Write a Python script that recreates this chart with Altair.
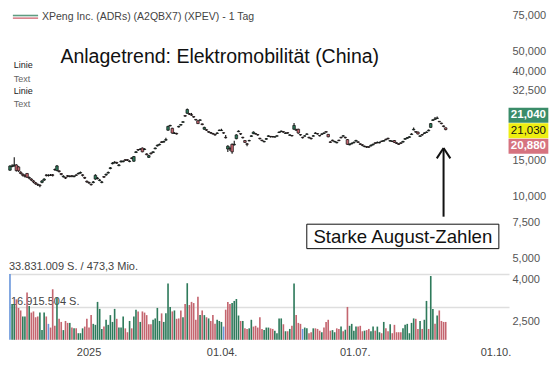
import altair as alt
import pandas as pd

# ---------------- data ----------------
opens = [
    13.40, 13.95, 14.05, 14.20, 13.90, 13.10, 12.80, 12.60, 12.92, 12.35,
    12.15, 11.90, 11.65, 11.45, 11.35, 11.70, 12.00, 12.70, 12.62, 12.70,
    12.72, 13.50, 13.35, 13.30, 12.90, 12.45, 12.35, 12.60, 12.48, 12.58,
    12.47, 12.70, 12.85, 12.98, 12.72, 12.35, 11.85, 11.70, 11.45, 11.68,
    12.14, 12.20, 11.95, 11.70, 12.48, 12.70, 12.98, 13.65, 14.40, 14.55,
    14.58, 14.10, 14.70, 14.72, 15.05, 15.05, 14.75, 15.35, 14.80, 16.30,
    16.85, 16.85, 17.13, 16.85, 16.05, 15.45, 16.20, 16.30, 17.00, 17.55,
    17.75, 18.35, 18.30, 18.70, 20.89, 21.90, 21.33, 20.15, 20.15, 21.65,
    22.10, 22.80, 24.55, 25.20, 25.10, 24.80, 24.30, 23.55, 23.18, 23.30,
    22.40, 21.11, 21.00, 20.55, 20.35, 20.15, 19.95, 20.15, 20.80, 20.80,
    20.30, 19.30, 16.95, 17.05, 17.86, 17.75, 19.01, 20.55, 20.10, 19.30,
    18.62, 17.95, 18.55, 19.50, 20.10, 20.10, 19.90, 19.10, 18.70, 18.35,
    18.90, 19.50, 19.50, 19.48, 19.35, 19.55, 20.35, 20.55, 20.55, 20.15,
    20.32, 19.75, 19.70, 21.11, 21.00, 21.11, 19.90, 19.30, 19.55, 19.95,
    19.30, 19.10, 19.55, 20.15, 20.10, 19.70, 19.95, 20.15, 20.55, 19.95,
    18.35, 18.70, 18.35, 18.15, 18.70, 19.30, 19.55, 19.30, 18.82, 17.75,
    17.95, 18.15, 18.50, 18.35, 17.95, 17.75, 17.40, 17.40, 17.38, 17.55,
    17.75, 18.15, 18.15, 18.15, 18.50, 18.50, 18.90, 19.10, 18.50, 18.50,
    18.62, 18.15, 17.95, 18.15, 18.30, 18.90, 19.10, 19.30, 19.90, 20.95,
    20.55, 20.45, 19.50, 19.90, 20.15, 20.35, 20.75, 21.55, 23.30, 23.55,
    23.80, 23.05, 22.60, 21.90, 21.45,
]
highs = [
    14.15, 14.30, 15.45, 14.30, 14.00, 13.25, 12.95, 12.80, 13.00, 12.50,
    12.25, 12.00, 11.75, 11.55, 11.45, 12.00, 12.25, 12.80, 12.80, 12.85,
    12.85, 13.65, 14.20, 13.40, 13.00, 12.65, 12.45, 12.70, 12.65, 12.70,
    12.65, 12.80, 13.05, 13.20, 12.80, 12.45, 11.95, 11.80, 11.55, 11.90,
    12.80, 12.40, 12.15, 11.90, 12.55, 12.90, 13.20, 13.90, 14.65, 14.80,
    14.70, 14.35, 14.95, 14.95, 15.15, 15.15, 14.95, 15.45, 15.70, 16.60,
    16.95, 17.10, 17.25, 17.10, 16.15, 15.90, 16.30, 16.55, 17.25, 17.80,
    18.00, 18.45, 18.60, 19.20, 21.95, 22.20, 21.45, 20.40, 20.30, 21.95,
    22.40, 23.10, 24.65, 26.60, 25.25, 25.30, 24.40, 23.65, 23.30, 23.60,
    22.50, 21.70, 21.10, 20.65, 20.45, 20.25, 20.05, 20.40, 21.05, 21.20,
    20.40, 19.80, 17.65, 17.40, 18.00, 18.60, 19.95, 20.85, 20.20, 19.40,
    18.75, 18.10, 18.80, 19.75, 20.60, 20.20, 20.00, 19.20, 18.80, 18.60,
    19.15, 19.75, 19.60, 19.60, 19.55, 19.75, 20.60, 20.80, 20.65, 20.40,
    20.40, 19.95, 19.80, 22.60, 21.20, 21.25, 20.00, 19.40, 19.75, 20.20,
    19.40, 19.20, 19.80, 20.40, 20.20, 19.80, 20.20, 20.40, 20.65, 20.05,
    18.45, 18.80, 18.60, 18.40, 18.80, 19.40, 19.80, 19.40, 18.95, 18.00,
    18.20, 18.40, 18.80, 18.45, 18.05, 17.85, 17.60, 17.50, 17.50, 17.80,
    18.00, 18.25, 18.40, 18.40, 18.60, 18.75, 19.00, 19.20, 18.75, 18.60,
    18.75, 18.25, 18.05, 18.25, 18.60, 19.15, 19.35, 19.55, 20.20, 21.55,
    20.65, 20.60, 19.75, 20.00, 20.40, 20.60, 21.05, 22.65, 23.60, 24.20,
    24.30, 23.15, 22.70, 22.00, 21.55,
]
lows = [
    13.30, 13.85, 13.95, 13.20, 13.15, 12.80, 12.50, 12.35, 12.30, 12.10,
    11.90, 11.60, 11.40, 11.25, 11.10, 11.60, 11.90, 12.50, 12.50, 12.55,
    12.50, 13.30, 13.25, 13.05, 12.65, 12.35, 12.15, 12.40, 12.40, 12.40,
    12.38, 12.55, 12.80, 12.90, 12.50, 12.15, 11.65, 11.50, 11.30, 11.60,
    12.05, 12.10, 11.85, 11.60, 12.30, 12.60, 12.90, 13.55, 14.30, 14.45,
    14.35, 14.00, 14.60, 14.65, 14.85, 14.85, 14.65, 15.15, 14.70, 16.20,
    16.60, 16.75, 16.35, 16.75, 15.80, 15.35, 15.95, 16.20, 16.90, 17.45,
    17.65, 18.10, 18.20, 18.60, 20.75, 21.80, 20.10, 20.05, 19.90, 21.55,
    22.00, 22.70, 24.25, 25.10, 24.75, 24.50, 24.00, 23.25, 22.35, 23.20,
    22.05, 21.00, 20.70, 20.30, 20.10, 19.90, 19.65, 20.05, 20.70, 20.70,
    20.10, 19.05, 16.40, 16.60, 16.10, 17.60, 18.90, 20.45, 19.80, 19.05,
    18.10, 17.50, 18.45, 19.40, 20.00, 19.90, 19.65, 18.85, 18.45, 18.25,
    18.80, 19.40, 19.25, 19.25, 19.25, 19.45, 20.25, 20.45, 20.30, 20.05,
    20.10, 19.65, 19.45, 21.00, 20.75, 20.10, 19.65, 19.05, 19.45, 19.85,
    19.05, 18.85, 19.45, 20.05, 19.90, 19.45, 19.85, 20.05, 20.30, 19.30,
    18.10, 18.45, 18.25, 18.05, 18.45, 19.05, 19.45, 19.05, 17.75, 17.65,
    17.85, 18.05, 18.40, 18.10, 17.70, 17.50, 17.30, 17.15, 17.15, 17.45,
    17.65, 17.90, 18.05, 18.05, 18.30, 18.40, 18.65, 18.85, 18.40, 18.30,
    18.10, 17.90, 17.70, 17.90, 18.20, 18.80, 19.00, 19.20, 19.80, 20.85,
    20.30, 19.90, 19.40, 19.65, 20.05, 20.25, 20.65, 21.45, 23.20, 23.45,
    23.70, 22.80, 22.30, 21.60, 20.88,
]
closes = [
    14.02, 14.05, 14.20, 13.33, 13.30, 12.92, 12.66, 12.53, 12.40, 12.27,
    12.01, 11.76, 11.52, 11.40, 11.28, 11.89, 12.14, 12.66, 12.66, 12.66,
    12.66, 13.47, 14.05, 13.20, 12.79, 12.53, 12.27, 12.53, 12.53, 12.53,
    12.53, 12.66, 12.92, 13.06, 12.66, 12.27, 11.76, 11.64, 11.40, 11.76,
    12.66, 12.27, 12.01, 11.76, 12.40, 12.79, 13.06, 13.76, 14.50, 14.65,
    14.50, 14.20, 14.80, 14.80, 14.96, 14.96, 14.80, 15.27, 15.59, 16.43,
    16.77, 16.95, 16.43, 16.95, 15.92, 15.75, 16.09, 16.43, 17.13, 17.67,
    17.86, 18.24, 18.43, 18.82, 21.78, 22.01, 20.24, 20.24, 20.03, 21.78,
    22.24, 22.94, 24.42, 26.28, 24.94, 24.68, 24.17, 23.42, 22.47, 23.42,
    22.24, 21.55, 20.89, 20.45, 20.24, 20.03, 19.82, 20.24, 20.89, 20.89,
    20.24, 19.21, 17.49, 16.95, 16.43, 17.86, 19.82, 20.67, 20.03, 19.21,
    18.24, 17.86, 18.62, 19.62, 20.45, 20.03, 19.82, 19.01, 18.62, 18.43,
    19.01, 19.62, 19.41, 19.41, 19.41, 19.62, 20.45, 20.67, 20.45, 20.24,
    20.24, 19.82, 19.62, 22.01, 20.89, 20.24, 19.82, 19.21, 19.62, 20.03,
    19.21, 19.01, 19.62, 20.24, 20.03, 19.62, 20.03, 20.24, 20.45, 19.41,
    18.24, 18.62, 18.43, 18.24, 18.62, 19.21, 19.62, 19.21, 17.86, 17.86,
    18.05, 18.24, 18.62, 18.24, 17.86, 17.67, 17.49, 17.31, 17.31, 17.67,
    17.86, 18.05, 18.24, 18.24, 18.43, 18.62, 18.82, 19.01, 18.62, 18.43,
    18.24, 18.05, 17.86, 18.05, 18.43, 19.01, 19.21, 19.41, 20.03, 21.11,
    20.45, 20.03, 19.62, 19.82, 20.24, 20.45, 20.89, 22.47, 23.42, 23.67,
    23.92, 22.94, 22.47, 21.78, 21.03,
]
# volume in million shares
volumes = [
    33.8, 18.4, 18.4, 20.8, 16.4, 15.1, 12.0, 12.0, 24.3, 17.4,
    14.0, 14.6, 11.6, 12.0, 14.0, 5.0, 14.0, 12.0, 8.2, 6.3,
    26.0, 7.2, 21.7, 10.8, 9.2, 5.0, 9.7, 8.7, 8.7, 6.3,
    5.9, 5.9, 3.4, 3.4, 5.9, 6.8, 10.8, 6.3, 12.7, 8.2,
    7.7, 19.5, 15.9, 5.6, 6.8, 10.3, 7.7, 12.7, 9.2, 15.9,
    10.8, 6.3, 6.3, 12.0, 5.9, 3.9, 9.7, 5.9, 12.0, 15.5,
    14.5, 9.2, 14.6, 14.0, 12.7, 8.0, 8.0, 10.3, 11.0, 16.4,
    9.7, 13.6, 9.2, 13.6, 29.0, 16.9, 14.6, 15.1, 10.8, 11.0,
    15.1, 11.6, 18.4, 29.1, 17.9, 19.5, 18.9, 10.3, 22.2, 12.7,
    15.1, 12.7, 11.6, 11.0, 9.7, 12.7, 8.2, 10.3, 9.7, 9.2,
    6.8, 15.5, 19.5, 18.4, 18.9, 20.0, 21.0, 12.5, 9.7, 9.7,
    5.9, 5.6, 5.9, 10.3, 6.8, 7.2, 6.3, 11.6, 5.6, 5.0,
    6.3, 6.3, 5.9, 5.6, 4.7, 3.4, 11.0, 11.0, 8.0, 4.4,
    4.4, 5.6, 7.2, 29.0, 12.7, 8.7, 8.2, 5.6, 6.3, 5.9,
    3.4, 3.9, 5.9, 5.9, 5.6, 4.7, 3.9, 6.3, 9.2, 10.3,
    4.7, 5.0, 3.9, 5.9, 5.6, 6.8, 4.4, 5.2, 16.9, 7.2,
    8.2, 4.7, 6.8, 6.8, 7.2, 4.4, 4.7, 5.0, 5.6, 4.4,
    6.8, 4.7, 6.8, 3.9, 3.4, 9.2, 5.9, 4.4, 8.0, 3.4,
    7.7, 3.9, 3.9, 3.9, 5.9, 7.7, 8.2, 3.4, 8.7, 11.0,
    10.8, 5.6, 9.7, 5.6, 10.3, 20.0, 5.6, 32.8, 15.9, 8.2,
    12.5, 15.1, 9.7, 9.2, 9.2,
]
# volume bar colour code: g = up, r = down, b = unchanged
vol_dir = list(
    "bggrrrggrg" "rrrrgggrbr" "rrgrrgrrgr" "grgggrrrrg" "ggggrggggg"
    "rgggrrgrgg" "rgrrrrrggg" "grggggrgrr" "rgrgrrrrrg" "rgrgrrrggg"
    "brrrggggrg" "rrggrrrrrg" "ggrrggggrg" "rgrgrrrbgg" "rrgrrrgrrr"
    "rggrrgrgrg" "gggrrrgrrg" "grggrgrrgr" "rrrrgggggg" "rrgrggrggr"
    "grrrr"
)
vol_max = 33.831009  # 33.831.009 S.

price_ticks = [5, 7.5, 10, 15, 32.5, 40, 50, 75]
x_tick_pos = [36.8, 99.1, 161.4, 227.3]
x_tick_labels = ["2025", "01.04.", "01.07.", "01.10."]
quote_labels = ["21,040", "21,030", "20,880"]
vol_axis_labels = ["4,000", "2,500"]

# ---------------- layout helpers ----------------
SX, SY = 0.97, 0.94
def X(v):
    return round(v * SX, 2)
def Y(v):
    return round(v * SY, 2)

FONT = "Liberation Sans"
GREEN = "#3a8c69"
RED = "#dc7b87"
VGREEN = "#2e7a5b"
VRED = "#c4656f"
VBLUE = "#6a97dc"

df = pd.DataFrame({
    "idx": list(range(len(closes))),
    "open": opens, "high": highs, "low": lows, "close": closes,
    "vol": volumes, "vdir": vol_dir,
})

xscale = alt.Scale(domain=[-1 / 2.2, 514 / 2.2], nice=False, zero=False)
pscale = alt.Scale(type="log", domain=[5, 75], range=[Y(267), Y(7.5)], nice=False)
vscale = alt.Scale(domain=[0, vol_max], range=[Y(353), Y(283)], nice=False, zero=False)

xexpr = "'%s'" % x_tick_labels[-1]
for p, l in reversed(list(zip(x_tick_pos[:-1], x_tick_labels[:-1]))):
    xexpr = "datum.value <= %s ? '%s' : (%s)" % (p + 0.01, l, xexpr)

xaxis = alt.Axis(
    values=x_tick_pos, labelExpr=xexpr, orient="bottom", ticks=False,
    domain=False, grid=False, labelFontSize=11, labelColor="#444444",
    labelPadding=3, labelFont=FONT, labelFlush=False, labelOverlap=False, title=None)

base = alt.Chart(df)

wick = base.mark_rule(color="#111111", strokeWidth=1.1).encode(
    x=alt.X("idx:Q", scale=xscale, axis=xaxis),
    y=alt.Y("low:Q", scale=pscale, axis=alt.Axis(
        orient="right", values=price_ticks,
        labelExpr="replace(format(datum.value, '.3f'), '.', ',')",
        ticks=False, domain=False, grid=False, labelFontSize=11,
        labelColor="#555555", labelPadding=3, labelFont=FONT,
        labelFlush=False, labelOverlap=False, title=None)),
    y2="high:Q",
)

body = base.transform_calculate(
    bl="datum.idx - 0.6", br="datum.idx + 0.6",
    dir="datum.close >= datum.open ? 'up' : 'down'",
).mark_rect(stroke="#111111", strokeWidth=0.7).encode(
    x=alt.X("bl:Q", scale=xscale, axis=xaxis),
    x2="br:Q",
    y=alt.Y("open:Q", scale=pscale, axis=None),
    y2="close:Q",
    color=alt.Color("dir:N", scale=alt.Scale(domain=["up", "down"], range=[GREEN, RED]), legend=None),
)

vbars = base.transform_calculate(
    vl="datum.idx - 0.38", vr="datum.idx + 0.38",
).mark_rect().encode(
    x=alt.X("vl:Q", scale=xscale, axis=xaxis),
    x2="vr:Q",
    y=alt.Y("vol:Q", scale=vscale, axis=alt.Axis(
        values=[vol_max / 2, vol_max], grid=True, gridColor="#dedede", gridWidth=1.5,
        labels=False, ticks=False, domain=False, title=None, orient="left")),
    y2=alt.datum(0),
    color=alt.Color("vdir:N", scale=alt.Scale(domain=["g", "r", "b"], range=[VGREEN, VRED, VBLUE]), legend=None),
)

dummy = pd.DataFrame({"d": [0]})

def txt(s, x, y, size, color="#444444", align="left", weight="normal"):
    return alt.Chart(dummy).mark_text(
        text=s, align=align, baseline="middle", fontSize=size, color=color,
        fontWeight=weight, font=FONT,
    ).encode(x=alt.value(x), y=alt.value(y))

def box(x1, x2, y1, y2, fill, stroke=None):
    kw = dict(fill=fill)
    if stroke:
        kw.update(stroke=stroke, strokeWidth=1)
    return alt.Chart(dummy).mark_rect(**kw).encode(
        x=alt.value(x1), x2=alt.value(x2), y=alt.value(y1), y2=alt.value(y2))

def seg(x1, y1, x2, y2, color, width):
    return alt.Chart(dummy).mark_rule(color=color, strokeWidth=width).encode(
        x=alt.value(x1), x2=alt.value(x2), y=alt.value(y1), y2=alt.value(y2))

behind = [
    txt("33.831.009 S. / 473,3 Mio.", X(0), Y(276), 11, "#444444"),
    txt("16.915.504 S.", X(2), Y(313), 11, "#444444"),
]
annots = [
    seg(X(4), Y(8), X(30), Y(8), "#5f9c80", 1.6),
    seg(X(4), Y(10.8), X(30), Y(10.8), "#d8808b", 1.6),
    txt("XPeng Inc. (ADRs) (A2QBX7) (XPEV) - 1 Tag", X(34), Y(9.5), 10.5, "#444444"),
    txt("Anlagetrend: Elektromobilität (China)", X(53), Y(52), 19.5, "#111111"),
    txt("Linie", X(5), Y(61), 9, "#222222"),
    txt("Text", X(5), Y(75), 9, "#666666"),
    txt("Linie", X(5), Y(88), 9, "#222222"),
    txt("Text", X(5), Y(102), 9, "#666666"),
    box(X(515), X(556), Y(106), Y(122), GREEN),
    box(X(515), X(556), Y(122.5), Y(138.5), "#eeee11"),
    box(X(515), X(556), Y(139), Y(155), "#d6737f"),
    txt(quote_labels[0], X(535.5), Y(114), 11.5, "#ffffff", "center", "bold"),
    txt(quote_labels[1], X(535.5), Y(130.5), 11.5, "#111111", "center"),
    txt(quote_labels[2], X(535.5), Y(147), 11.5, "#ffffff", "center", "bold"),
    txt(vol_axis_labels[0], X(519), Y(289), 11, "#555555"),
    txt(vol_axis_labels[1], X(519), Y(334), 11, "#555555"),
    seg(X(448), Y(150), X(448), Y(222), "#111111", 2),
    seg(X(441), Y(160), X(448), Y(149), "#111111", 2),
    seg(X(455), Y(160), X(448), Y(149), "#111111", 2),
    box(X(307), X(505), Y(230), Y(256), "#ffffff", "#111111"),
    txt("Starke August-Zahlen", X(406), Y(243.5), 18.6, "#111111", "center"),
]

chart = alt.layer(
    wick, *behind, vbars, body, *annots
).resolve_scale(y="independent").properties(
    width=500, height=335, padding={"left": 0, "top": 0, "right": 2, "bottom": 2},
    background="white",
).configure_view(stroke=None)

chart.save("out.html", embed_options={"renderer": "svg", "actions": False})
